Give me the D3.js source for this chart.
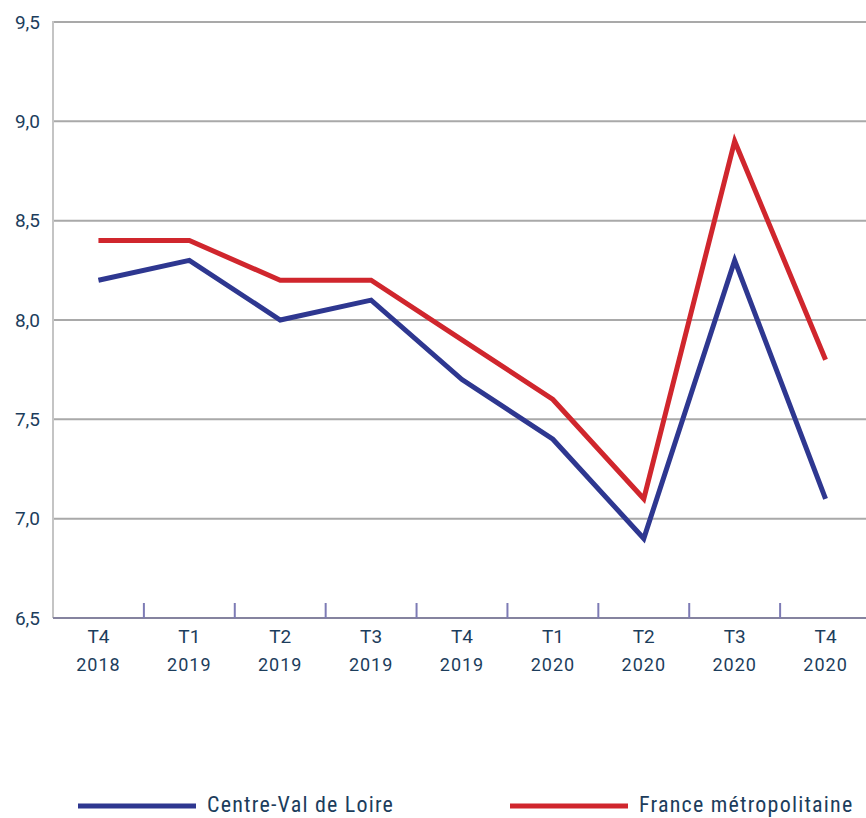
<!DOCTYPE html>
<html>
<head>
<meta charset="utf-8">
<script src="https://cdn.jsdelivr.net/npm/d3@7"></script>
<style>
  html, body { margin: 0; padding: 0; background: #fff; }
  svg { display: block; }
</style>
</head>
<body>
<svg id="chart" width="866" height="818"></svg>
<script>
// Quarters shown on the x axis (two-line labels)
const quarters = ["T4", "T1", "T2", "T3", "T4", "T1", "T2", "T3", "T4"];
const years    = ["2018", "2019", "2019", "2019", "2019", "2020", "2020", "2020", "2020"];

// Unemployment rate (%) per quarter
const centreValDeLoire     = [8.2, 8.3, 8.0, 8.1, 7.7, 7.4, 6.9, 8.3, 7.1];
const franceMetropolitaine = [8.4, 8.4, 8.2, 8.2, 7.9, 7.6, 7.1, 8.9, 7.8];

// Y axis ticks
const yTicks = [6.5, 7.0, 7.5, 8.0, 8.5, 9.0, 9.5];

const seriesNames  = ["Centre-Val de Loire", "France métropolitaine"];
const seriesColors = ["#2e3790", "#d0262d"];

const svg = d3.select("#chart");
const plotLeft = 53, plotRight = 871, plotTop = 22, plotBottom = 618;

const x = d3.scaleBand().domain(d3.range(quarters.length)).range([plotLeft, plotRight]);
const y = d3.scaleLinear().domain([6.5, 9.5]).range([plotBottom, plotTop]);

const fmt = v => d3.format(".1f")(v).replace(".", ",");
const textColor = "#1c3d5c";

// Horizontal gridlines
svg.append("g")
  .selectAll("line")
  .data(yTicks.filter(v => v > 6.5))
  .join("line")
  .attr("x1", plotLeft).attr("x2", 866)
  .attr("y1", d => y(d)).attr("y2", d => y(d))
  .attr("stroke", "#a9a9a9").attr("stroke-width", 2);

// Left axis line
svg.append("line")
  .attr("x1", plotLeft).attr("x2", plotLeft)
  .attr("y1", plotTop - 1).attr("y2", plotBottom)
  .attr("stroke", "#c4c4c4").attr("stroke-width", 2);

// Y tick labels
svg.append("g")
  .selectAll("text")
  .data(yTicks)
  .join("text")
  .attr("x", 40)
  .attr("y", d => y(d))
  .attr("dy", "0.35em")
  .attr("text-anchor", "end")
  .attr("font-family", "Roboto, 'Open Sans', sans-serif")
  .attr("font-size", 19)
  .attr("fill", textColor)
  .text(fmt);

// Bottom axis line
svg.append("line")
  .attr("x1", plotLeft).attr("x2", 866)
  .attr("y1", plotBottom).attr("y2", plotBottom)
  .attr("stroke", "#85839f").attr("stroke-width", 2);

// Tick marks between quarters
svg.append("g")
  .selectAll("line")
  .data(d3.range(1, quarters.length))
  .join("line")
  .attr("x1", d => x(d)).attr("x2", d => x(d))
  .attr("y1", plotBottom - 15).attr("y2", plotBottom)
  .attr("stroke", "#7d7bb5").attr("stroke-width", 2);

// X labels
const xl = svg.append("g")
  .selectAll("g")
  .data(quarters)
  .join("g")
  .attr("transform", (d, i) => `translate(${x(i) + x.bandwidth() / 2},0)`);
xl.append("text")
  .attr("y", 643)
  .attr("text-anchor", "middle")
  .attr("font-family", "Roboto, 'Open Sans', sans-serif")
  .attr("font-size", 19)
  .attr("fill", textColor)
  .text(d => d);
xl.append("text")
  .attr("y", 671)
  .attr("text-anchor", "middle")
  .attr("font-family", "Roboto, 'Open Sans', sans-serif")
  .attr("font-size", 18)
  .attr("letter-spacing", 1)
  .attr("fill", textColor)
  .text((d, i) => years[i]);

// Lines
const line = d3.line()
  .x((d, i) => x(i) + x.bandwidth() / 2)
  .y(d => y(d));

[centreValDeLoire, franceMetropolitaine].forEach((vals, k) => {
  svg.append("path")
    .datum(vals)
    .attr("fill", "none")
    .attr("stroke", seriesColors[k])
    .attr("stroke-width", 5)
    .attr("stroke-linejoin", "miter")
    .attr("d", line);
});

// Legend
const legendX = [78, 510];
seriesNames.forEach((name, k) => {
  const g = svg.append("g").attr("transform", `translate(${legendX[k]},806)`);
  g.append("line")
    .attr("x1", 0).attr("x2", 118)
    .attr("stroke", seriesColors[k]).attr("stroke-width", 5);
  g.append("text")
    .attr("x", 129)
    .attr("y", 6)
    .attr("font-family", "'Liberation Sans Narrow', 'Roboto Condensed', 'Open Sans', sans-serif")
    .attr("font-size", 22)
    .attr("letter-spacing", 1.2)
    .attr("fill", textColor)
    .text(name);
});
</script>
</body>
</html>
